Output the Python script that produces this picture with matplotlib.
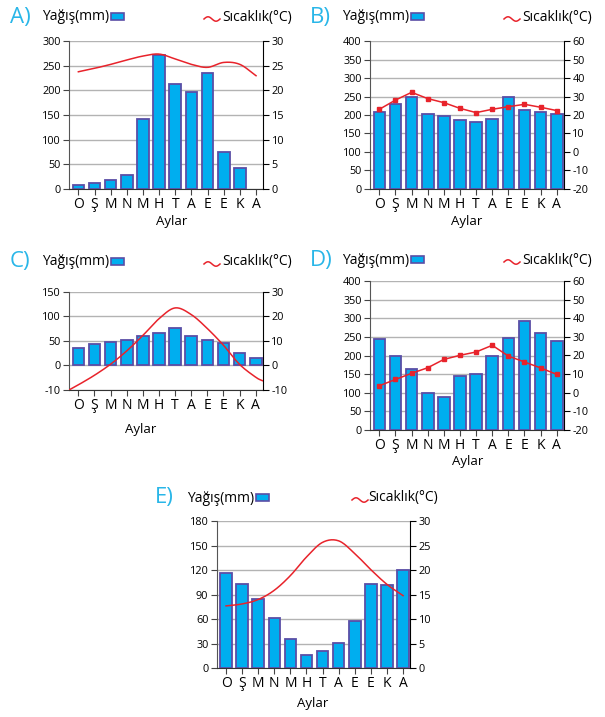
import numpy as np
import matplotlib
matplotlib.use("Agg")
import matplotlib.pyplot as plt
from matplotlib.lines import Line2D
from matplotlib.patches import Rectangle

plt.rcParams['font.family'] = ['Open Sans', 'DejaVu Sans']
plt.rcParams['axes.unicode_minus'] = False

W, H = 605, 717

months = ["O", "Ş", "M", "N", "M", "H", "T", "A", "E", "E", "K", "A"]

# A
rain_a = [7, 11, 17, 28, 142, 273, 213, 196, 236, 75, 43, 0]
temp_a = [23.8, 24.5, 25.3, 26.2, 27.0, 27.4, 26.4, 25.3, 24.7, 25.7, 25.3, 23.0]
# B
rain_b = [207, 229, 250, 202, 197, 187, 180, 188, 250, 213, 207, 202]
temp_b = [23.1, 28.1, 32.3, 28.9, 26.7, 23.6, 21.3, 23.1, 24.5, 25.8, 24.2, 22.4]
# C
rain_c = [36, 44, 47, 51, 60, 66, 77, 60, 52, 45, 26, 16]
temp_c = [-7.9, -4.0, 0.5, 5.9, 12.2, 19.0, 23.4, 20.7, 15.0, 8.2, 0.4, -4.8]
temp_c_edges = [-10.0, -6.2]   # egrinin eksen kenarlarindaki degerleri
# D
rain_d = [244, 200, 163, 100, 89, 144, 151, 199, 248, 293, 260, 240]
temp_d = [3.7, 7.1, 10.4, 13.4, 17.9, 20.1, 21.9, 25.5, 19.7, 16.5, 13.3, 9.8]
# E
rain_e = [117, 103, 85, 61, 35, 16, 21, 31, 58, 103, 102, 120]
temp_e = [12.7, 13.1, 14.0, 15.9, 18.9, 22.7, 25.7, 26.0, 23.4, 20.1, 17.1, 14.8]

BAR = "#00aeef"
EDGE = "#5a4ea6"
RED = "#e8232b"
CYAN = "#29b6e8"
XLIM = (-0.58, 11.45)


def smooth(x, y, n=20):
    # Catmull-Rom egrisi (Excel'in yumusatilmis cizgisi gibi)
    x = np.asarray(x, float)
    y = np.asarray(y, float)
    px = np.concatenate([[2 * x[0] - x[1]], x, [2 * x[-1] - x[-2]]])
    py = np.concatenate([[2 * y[0] - y[1]], y, [2 * y[-1] - y[-2]]])
    t = np.linspace(0, 1, n, endpoint=False)

    def cr(p, i):
        p0, p1, p2, p3 = p[i], p[i + 1], p[i + 2], p[i + 3]
        return 0.5 * (2 * p1 + (-p0 + p2) * t + (2 * p0 - 5 * p1 + 4 * p2 - p3) * t ** 2
                      + (-p0 + 3 * p1 - 3 * p2 + p3) * t ** 3)

    xs, ys = [], []
    for i in range(len(y) - 1):
        xs.append(cr(px, i))
        ys.append(cr(py, i))
    xs.append([x[-1]])
    ys.append([y[-1]])
    return np.concatenate(xs), np.concatenate(ys)


def fx(px):
    return px / W


def fy(py):
    return 1 - py / H


def header(fig, letter, lx, yx, px, wx, sx, yc):
    fig.text(fx(lx), fy(yc), letter, color=CYAN, fontsize=16, va="center", ha="left")
    fig.text(fx(yx), fy(yc), "Yağış(mm)", fontsize=10, va="center", ha="left")
    fig.add_artist(Rectangle((fx(px), fy(yc + 3)), 13 / W, 7 / H, transform=fig.transFigure,
                             facecolor=BAR, edgecolor=EDGE, lw=1.2))
    t = np.linspace(0, 1, 30)
    fig.add_artist(Line2D(fx(wx + 16 * t), fy(yc + 2 - 2.2 * np.sin(2 * np.pi * t)),
                          transform=fig.transFigure, color=RED, lw=1.1))
    fig.text(fx(sx), fy(yc), "Sıcaklık(°C)", fontsize=10, va="center", ha="left")


def panel(fig, box, rain, temp, lt, rt, llabels=None, markers=False, edges=None,
          aylar_x=None, aylar_y=None):
    x0, y0, x1, y1 = box
    ax = fig.add_axes([fx(x0), fy(y1), (x1 - x0) / W, (y1 - y0) / H])
    xs = np.arange(len(months))
    for i, v in enumerate(rain):
        if v > 0:
            ax.bar(xs[i], v, width=0.72, color=BAR, edgecolor=EDGE, linewidth=1.3, zorder=3)
    ax.set_ylim(lt[0], lt[-1])
    ax.set_yticks(lt)
    if llabels is not None:
        ax.set_yticklabels(llabels)
    ax.set_xlim(*XLIM)
    ax.set_xticks(xs)
    ax.set_xticklabels(months, fontsize=10)
    ax.yaxis.grid(True, color="#b3b3b3", lw=1.0, zorder=0)
    ax.set_axisbelow(True)
    ax.tick_params(axis="y", labelsize=7.8, length=4, pad=2, color="#444444")
    ax.tick_params(axis="x", length=4, pad=2, color="#444444")
    for s in ["top", "right"]:
        ax.spines[s].set_visible(False)
    ax.spines["left"].set_color("#555555")
    ax.spines["bottom"].set_color("#333333")

    ax2 = ax.twinx()
    ax2.set_ylim(rt[0], rt[-1])
    ax2.set_yticks(rt)
    ax2.tick_params(axis="y", labelsize=7.8, length=4, pad=2, color="black")
    for s in ["top", "left", "bottom"]:
        ax2.spines[s].set_visible(False)
    ax2.spines["right"].set_color("black")
    if markers:
        ax2.plot(xs, temp, color=RED, lw=1.1, marker="s", markersize=2.8, zorder=5)
    else:
        tx = list(xs)
        ty = list(temp)
        if edges is not None:
            tx = [XLIM[0]] + tx + [XLIM[1] - 0.04]
            ty = [edges[0]] + ty + [edges[1]]
        sx, sy = smooth(tx, ty)
        ax2.plot(sx, sy, color=RED, lw=1.1, zorder=5)
    ax2.set_xlim(*XLIM)

    fig.text(fx(aylar_x), fy(aylar_y), "Aylar", fontsize=9.5, ha="center", va="center")
    return ax


fig = plt.figure(figsize=(W / 100, H / 100), dpi=100)

header(fig, "A)", 10, 42, 111, 204, 222, 17)
panel(fig, (69, 41.3, 263.3, 188.7), rain_a, temp_a, [0, 50, 100, 150, 200, 250, 300],
      [0, 5, 10, 15, 20, 25, 30], aylar_x=172, aylar_y=222)

header(fig, "B)", 310, 342, 411, 504, 522, 17)
panel(fig, (370, 41.3, 564, 188.7), rain_b, temp_b, [0, 50, 100, 150, 200, 250, 300, 350, 400],
      [-20, -10, 0, 10, 20, 30, 40, 50, 60], markers=True, aylar_x=467, aylar_y=222)

header(fig, "C)", 10, 42, 111, 204, 222, 262)
panel(fig, (69, 291.7, 263, 390), rain_c, temp_c, [-50, 0, 50, 100, 150],
      [-10, 0, 10, 20, 30], llabels=["-10", "0", "50", "100", "150"], edges=temp_c_edges,
      aylar_x=141, aylar_y=430)

header(fig, "D)", 310, 342, 411, 504, 522, 260)
panel(fig, (370, 281.3, 564, 429.7), rain_d, temp_d, [0, 50, 100, 150, 200, 250, 300, 350, 400],
      [-20, -10, 0, 10, 20, 30, 40, 50, 60], markers=True, aylar_x=468, aylar_y=462)

header(fig, "E)", 155, 187, 256, 352, 368, 498)
panel(fig, (216.7, 521.3, 410.3, 668), rain_e, temp_e, [0, 30, 60, 90, 120, 150, 180],
      [0, 5, 10, 15, 20, 25, 30], aylar_x=313, aylar_y=703)

fig.savefig("out.png", dpi=100)
